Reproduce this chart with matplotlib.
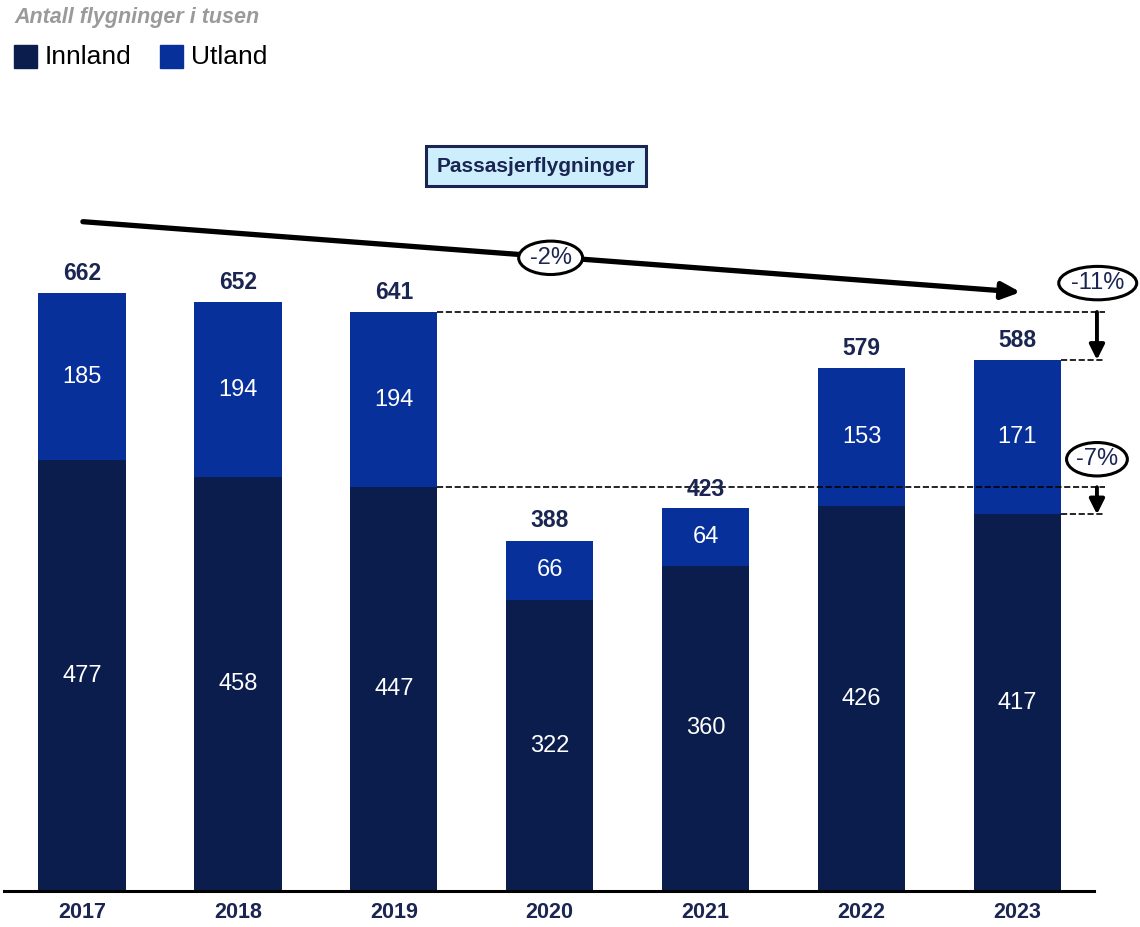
import matplotlib
matplotlib.use("Agg")
import matplotlib.pyplot as plt
from matplotlib.patches import Ellipse, Rectangle

plt.rcParams["font.family"] = ["Liberation Sans", "DejaVu Sans"]

years = ["2017", "2018", "2019", "2020", "2021", "2022", "2023"]
innland = [477, 458, 447, 322, 360, 426, 417]
utland = [185, 194, 194, 66, 64, 153, 171]
totals = [662, 652, 641, 388, 423, 579, 588]

c_inn = "#0a1d4d"
c_utl = "#07309b"
c_txt = "#1b2552"

W, H = 1140, 927
fig = plt.figure(figsize=(W / 100, H / 100), dpi=100)
ax = fig.add_axes([0.0035, 0.0388, 0.956, 0.877])

x = list(range(len(years)))
w = 0.56
ax.bar(x, innland, width=w, color=c_inn)
ax.bar(x, utland, width=w, bottom=innland, color=c_utl)

for i in x:
    ax.text(i, innland[i] / 2, str(innland[i]), ha="center", va="center",
            color="white", fontsize=17)
    ax.text(i, innland[i] + utland[i] / 2, str(utland[i]), ha="center",
            va="center", color="white", fontsize=17)
    ax.text(i, totals[i] + 9, str(totals[i]), ha="center", va="bottom",
            color=c_txt, fontsize=16.5, fontweight="bold")

ax.set_xlim(-0.5, 6.49)
ax.set_ylim(0, 900)
ax.set_xticks(x)
ax.set_xticklabels(years, fontsize=15.5, fontweight="bold", color=c_txt)
ax.tick_params(axis="x", length=0, pad=8)
ax.set_yticks([])
for s in ["top", "right", "left"]:
    ax.spines[s].set_visible(False)
ax.spines["bottom"].set_linewidth(2.2)

# overall trend arrow with CAGR label
ax.annotate("", xy=(6.02, 663), xytext=(0.006, 741),
            arrowprops=dict(arrowstyle="-|>,head_length=1.1,head_width=0.5",
                            lw=3.8, color="black", shrinkA=0, shrinkB=0),
            annotation_clip=False)


def oval(xc, yc, wd, ht, label):
    ax.add_patch(Ellipse((xc, yc), wd, ht, facecolor="white",
                         edgecolor="black", lw=2.2, zorder=5, clip_on=False))
    ax.text(xc, yc, label, ha="center", va="center", fontsize=17,
            color=c_txt, zorder=6, clip_on=False)


oval(3.006, 701, 0.41, 37, "-2%")

# change 2019 -> 2023, total and domestic
xr = 6.56
xa = 6.51
right19 = 2 + w / 2
right23 = 6 + w / 2
for top19, top23 in [(totals[2], totals[6]), (innland[2], innland[6])]:
    ax.plot([right19, xr], [top19, top19], ls="--", lw=1.2, color="black",
            clip_on=False)
    ax.plot([right23, xr], [top23, top23], ls="--", lw=1.2, color="black",
            clip_on=False)
    ax.annotate("", xy=(xa, top23), xytext=(xa, top19),
                arrowprops=dict(arrowstyle="-|>,head_length=0.9,head_width=0.45",
                                lw=2.8, color="black", shrinkA=0, shrinkB=0),
                annotation_clip=False)

oval(6.515, 673, 0.50, 37, "-11%")
oval(6.51, 478, 0.39, 37, "-7%")

fig.text(536 / W, 1 - 166 / H, "Passasjerflygninger", ha="center",
         va="center", fontsize=15, fontweight="bold", color=c_txt,
         bbox=dict(boxstyle="square,pad=0.5", facecolor="#cdeefc",
                   edgecolor=c_txt, lw=2.2))

fig.text(14 / W, 1 - 18 / H, "Antall flygninger i tusen", ha="left",
         va="center", fontsize=15.5, fontstyle="italic", fontweight="bold",
         color="#9a9a9a")

# legend drawn by hand
for x0, col, lab in [(14, c_inn, "Innland"), (160, c_utl, "Utland")]:
    fig.patches.append(Rectangle((x0 / W, 1 - 68 / H), 23 / W, 23 / H,
                                 transform=fig.transFigure, color=col))
    fig.text((x0 + 31) / W, 1 - 57 / H, lab, ha="left", va="center",
             fontsize=19, color="black")

fig.savefig("out.png", dpi=100)
